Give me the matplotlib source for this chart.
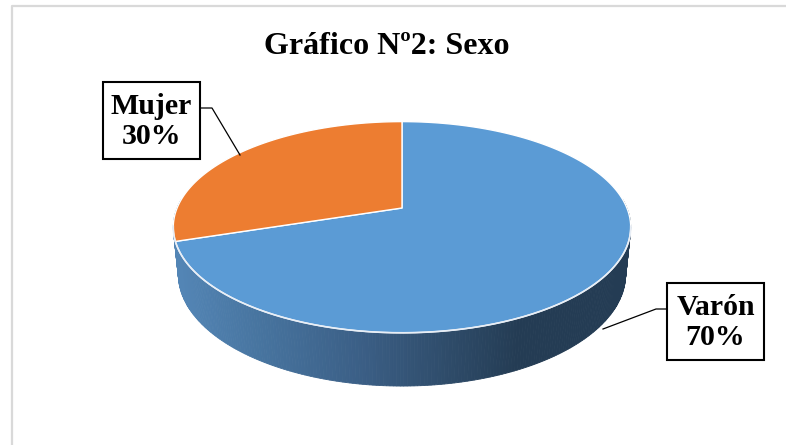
import numpy as np
import matplotlib.pyplot as plt
from matplotlib.patches import Polygon, Rectangle
from matplotlib.colors import to_rgb

# ---------- data ----------
labels = ['Varón', 'Mujer']
values = [70, 30]
colors = ['#5b9bd5', '#ed7d31']
title = 'Gráfico Nº2: Sexo'

# ---------- 3D pie geometry (pixels) ----------
W, H = 786, 445
CX, CY = 402, 208      # projected centre of top face
ELEV = np.radians(27)  # camera elevation
DIST = 4.9             # camera distance (disc radius = 1)
FOC = 1102             # focal length in px
THICK = 0.237          # disc thickness


def project(phi, z=0.0):
    X, Y = np.cos(phi), np.sin(phi)
    depth = DIST + Y * np.cos(ELEV) - z * np.sin(ELEV)
    up = Y * np.sin(ELEV) + z * np.cos(ELEV)
    return CX + FOC * X / depth, CY - FOC * up / depth


plt.rcParams['font.family'] = ['Liberation Serif', 'DejaVu Serif']
fig = plt.figure(figsize=(W / 100, H / 100), dpi=100)
ax = fig.add_axes([0, 0, 1, 1])
ax.set_xlim(0, W)
ax.set_ylim(H, 0)
ax.axis('off')

# chart frame (only left/top visible)
ax.plot([11.5, 11.5, W], [H, 5.5, 5.5], color='#d9d9d9', lw=1.6, zorder=1)

# slice angles: first slice (Varón) starts at 12 o'clock going clockwise
total = sum(values)
fracs = [v / total for v in values]
starts, ends = [], []
a = np.pi / 2
for f in fracs:
    starts.append(a - 2 * np.pi * f)
    ends.append(a)
    a -= 2 * np.pi * f

# side wall (front half), drawn as thin strips with horizontal gradient
grad = [(180, '#5385b5'), (260, '#47749f'), (360, '#3b5f86'),
        (480, '#2a4560'), (520, '#243c54'), (640, '#243c54')]
gx = np.array([g[0] for g in grad])
gc = np.array([to_rgb(g[1]) for g in grad])

phis = np.linspace(np.radians(175), np.radians(365), 260)
for p0, p1 in zip(phis[:-1], phis[1:]):
    xt0, yt0 = project(p0)
    xt1, yt1 = project(p1)
    xb0, yb0 = project(p0, -THICK)
    xb1, yb1 = project(p1, -THICK)
    xm = (xt0 + xt1) / 2
    c = [np.interp(xm, gx, gc[:, k]) for k in range(3)]
    ax.add_patch(Polygon([(xt0, yt0), (xt1, yt1), (xb1, yb1), (xb0, yb0)],
                         closed=True, facecolor=c, edgecolor=c, lw=0.6, zorder=2))

# top faces
for s, e, col in zip(starts, ends, colors):
    ph = np.linspace(s, e, 200)
    xs, ys = project(ph)
    pts = [(CX, CY)] + list(zip(xs, ys))
    ax.add_patch(Polygon(pts, closed=True, facecolor=col, edgecolor='white',
                         lw=1.0, zorder=3, joinstyle='round'))

# light rim along the front edge
ph = np.linspace(np.radians(190), np.radians(350), 200)
xs, ys = project(ph)
ax.plot(xs, ys, color='#e8eef6', lw=1.2, zorder=4)

# title
ax.text(387, 46, title, ha='center', va='center', fontsize=23,
        fontweight='bold', zorder=5)

# data labels with leader lines
label_pos = {'Mujer': (151.5, 120.5), 'Varón': (715.5, 321.5)}
box_size = (97, 77)
leaders = {'Mujer': [(200, 108), (212, 108), (240, 155)],
           'Varón': [(667, 309), (656, 309), (603, 329)]}
for lab, v in zip(labels, values):
    bx, by = label_pos[lab]
    ax.add_patch(Rectangle((bx - box_size[0] / 2, by - box_size[1] / 2),
                           box_size[0], box_size[1], facecolor='white',
                           edgecolor='black', lw=1.5, zorder=6))
    ax.text(bx, by + 1, f'{lab}\n{round(100 * v / total)}%', ha='center',
            va='center', fontsize=21.5, fontweight='bold', linespacing=1.12,
            zorder=7)
    lx, ly = zip(*leaders[lab])
    ax.plot(lx, ly, color='black', lw=0.9, zorder=5)

fig.savefig('out.png', dpi=100)
